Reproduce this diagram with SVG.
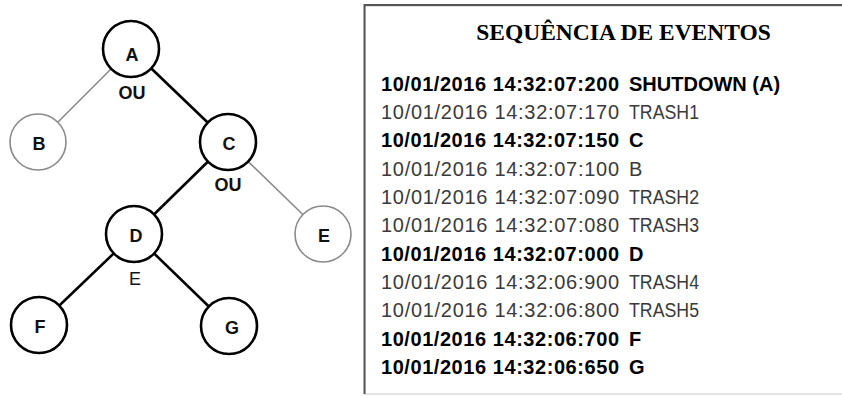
<svg xmlns="http://www.w3.org/2000/svg" width="842" height="396" viewBox="0 0 842 396">
<style>
.edge-b{stroke:#000;stroke-width:2.6;fill:none}
.edge-g{stroke:#8a8a8a;stroke-width:1.6;fill:none}
.node-b{fill:#fff;stroke:#000;stroke-width:2.6}
.node-g{fill:#fff;stroke:#8a8a8a;stroke-width:1.6}
.lbl{font-family:"Liberation Sans",Arial,sans-serif;font-weight:bold;font-size:18px;fill:#111;text-anchor:middle}
.gate{font-family:"Liberation Sans",Arial,sans-serif;font-weight:bold;font-size:18px;fill:#111;text-anchor:middle}
.gate-r{font-family:"Liberation Sans",Arial,sans-serif;font-size:18px;fill:#111;text-anchor:middle}
.title{font-family:"Liberation Serif","Times New Roman",serif;font-weight:bold;font-size:23.5px;fill:#000;text-anchor:middle}
.ts{font-family:"Liberation Sans",Arial,sans-serif;font-size:20px;fill:#3a3a3a}
.ts.b{font-weight:bold;fill:#000}
</style>
<rect x="0" y="0" width="842" height="396" fill="#fff"/>
<g id="connectors">
<line class="edge-g" x1="131" y1="49" x2="38" y2="142"/>
<line class="edge-b" x1="131" y1="49" x2="228" y2="142"/>
<line class="edge-b" x1="228" y1="142" x2="134" y2="234"/>
<line class="edge-g" x1="228" y1="142" x2="323" y2="234"/>
<line class="edge-b" x1="134" y1="234" x2="39" y2="325"/>
<line class="edge-b" x1="134" y1="234" x2="229" y2="326"/>
</g>
<g id="node-A"><circle class="node-b" cx="131" cy="49" r="28"/><text class="lbl" x="132" y="61">A</text></g>
<g id="node-B"><circle class="node-g" cx="38" cy="142" r="28"/><text class="lbl" x="39" y="150">B</text></g>
<g id="node-C"><circle class="node-b" cx="228" cy="142" r="28"/><text class="lbl" x="229" y="150">C</text></g>
<g id="node-D"><circle class="node-b" cx="134" cy="234" r="28"/><text class="lbl" x="136" y="242">D</text></g>
<g id="node-E"><circle class="node-g" cx="323" cy="234" r="28"/><text class="lbl" x="324" y="242">E</text></g>
<g id="node-F"><circle class="node-b" cx="39" cy="325" r="28"/><text class="lbl" x="40" y="333">F</text></g>
<g id="node-G"><circle class="node-b" cx="229" cy="326" r="28"/><text class="lbl" x="232" y="334">G</text></g>
<g id="gates">
<text class="gate" x="132" y="99">OU</text>
<text class="gate" x="228" y="191">OU</text>
<text class="gate-r" x="135" y="285">E</text>
</g>
<g id="events-panel">
<rect x="365" y="6" width="480" height="388" fill="#fff" stroke="#c8c8c8" stroke-width="1"/>
<path d="M364.5 394 V5 H842" fill="none" stroke="#555" stroke-width="2"/>
<text class="title" x="623.5" y="40">SEQUÊNCIA DE EVENTOS</text>
<text class="ts b" x="381" y="90.5" textLength="238">10/01/2016 14:32:07:200</text>
<text class="ts b" x="629" y="90.5">SHUTDOWN (A)</text>
<text class="ts" x="381" y="118.9" textLength="238">10/01/2016 14:32:07:170</text>
<text class="ts" x="629" y="118.9" textLength="70" lengthAdjust="spacingAndGlyphs">TRASH1</text>
<text class="ts b" x="381" y="147.2" textLength="238">10/01/2016 14:32:07:150</text>
<text class="ts b" x="629" y="147.2">C</text>
<text class="ts" x="381" y="175.6" textLength="238">10/01/2016 14:32:07:100</text>
<text class="ts" x="629" y="175.6">B</text>
<text class="ts" x="381" y="203.9" textLength="238">10/01/2016 14:32:07:090</text>
<text class="ts" x="629" y="203.9" textLength="70" lengthAdjust="spacingAndGlyphs">TRASH2</text>
<text class="ts" x="381" y="232.3" textLength="238">10/01/2016 14:32:07:080</text>
<text class="ts" x="629" y="232.3" textLength="70" lengthAdjust="spacingAndGlyphs">TRASH3</text>
<text class="ts b" x="381" y="260.6" textLength="238">10/01/2016 14:32:07:000</text>
<text class="ts b" x="629" y="260.6">D</text>
<text class="ts" x="381" y="289" textLength="238">10/01/2016 14:32:06:900</text>
<text class="ts" x="629" y="289" textLength="70" lengthAdjust="spacingAndGlyphs">TRASH4</text>
<text class="ts" x="381" y="317.3" textLength="238">10/01/2016 14:32:06:800</text>
<text class="ts" x="629" y="317.3" textLength="70" lengthAdjust="spacingAndGlyphs">TRASH5</text>
<text class="ts b" x="381" y="345.7" textLength="238">10/01/2016 14:32:06:700</text>
<text class="ts b" x="629" y="345.7">F</text>
<text class="ts b" x="381" y="374" textLength="238">10/01/2016 14:32:06:650</text>
<text class="ts b" x="629" y="374">G</text>
</g>
</svg>
